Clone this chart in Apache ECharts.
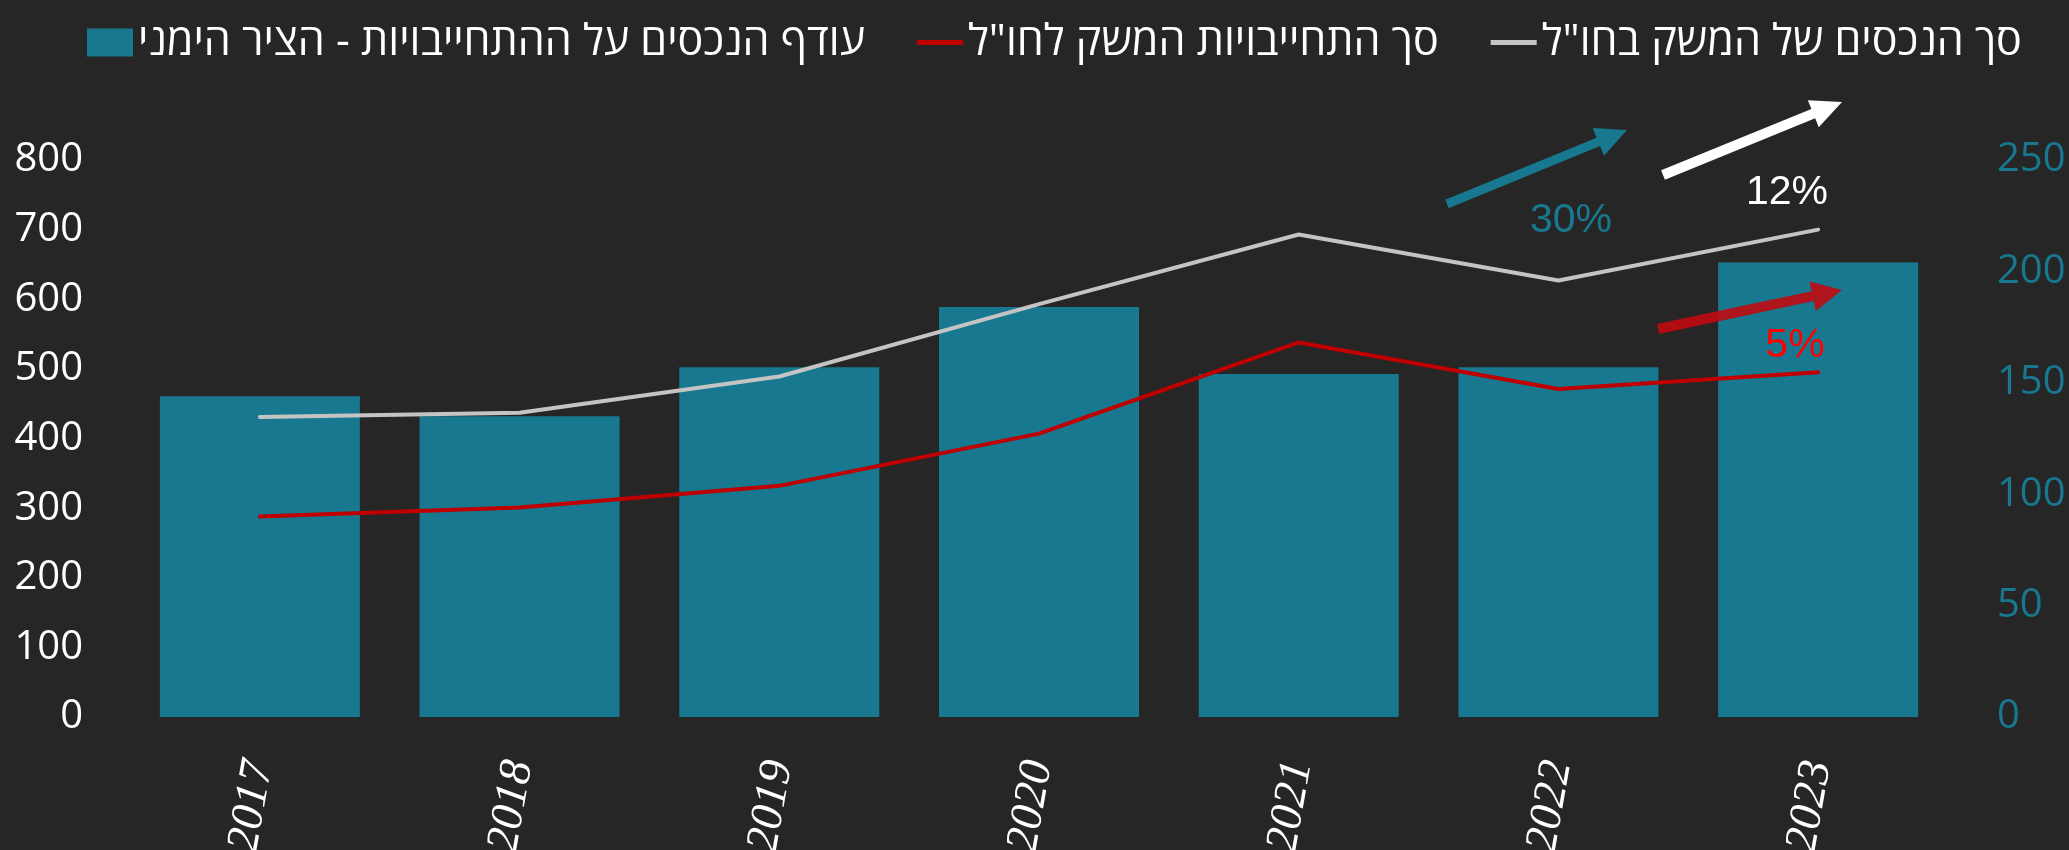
<!DOCTYPE html>
<html>
<head>
<meta charset="utf-8">
<script src="https://cdn.jsdelivr.net/npm/echarts/dist/echarts.min.js"></script>
<style>
html, body { margin: 0; padding: 0; background: #262626; }
#chart { width: 2069px; height: 850px; }
</style>
</head>
<body>
<div id="chart"></div>
<script>
// data
const years = ['2017', '2018', '2019', '2020', '2021', '2022', '2023'];
const assets = [431, 437, 489, 593, 693, 627, 700];        // left axis
const liabilities = [288, 301, 332, 407, 538, 471, 495];   // left axis
const surplus = [144, 135, 157, 184, 154, 157, 204];       // right axis
const leftTicks = { min: 0, max: 800, interval: 100 };
const rightTicks = { min: 0, max: 250, interval: 50 };

const nameBar = 'עודף הנכסים על ההתחייבויות - הציר הימני';
const nameLiab = 'סך התחייבויות המשק לחו"ל';
const nameAssets = 'סך הנכסים של המשק בחו"ל';

const teal = '#177890';
const red = '#c00000';
const grey = '#c4c4c4';
const font = '"Open Sans", "Noto Sans", "Liberation Sans", sans-serif';
const lineIcon = 'path://M0,0H48V5H0Z';

// arrow outline for the annotation arrows
function arrow(tail, tip, shaft, headLen, headW) {
 const dx = tip[0] - tail[0], dy = tip[1] - tail[1];
 const len = Math.hypot(dx, dy);
 const ux = dx / len, uy = dy / len, nx = -uy, ny = ux;
 const bx = tip[0] - ux * headLen, by = tip[1] - uy * headLen;
 return [
  [tail[0] + nx * shaft / 2, tail[1] + ny * shaft / 2],
  [bx + nx * shaft / 2, by + ny * shaft / 2],
  [bx + nx * headW / 2, by + ny * headW / 2],
  tip,
  [bx - nx * headW / 2, by - ny * headW / 2],
  [bx - nx * shaft / 2, by - ny * shaft / 2],
  [tail[0] - nx * shaft / 2, tail[1] - ny * shaft / 2]
 ];
}

const pctStyle = { fontSize: 41, fontFamily: '"Liberation Sans", Arial', align: 'center', verticalAlign: 'middle' };

const chart = echarts.init(document.getElementById('chart'));
chart.setOption({
 backgroundColor: '#262626',
 animation: false,
 legend: {
  left: 82,
  top: 16,
  itemWidth: 46,
  itemHeight: 28,
  itemGap: 52,
  textStyle: { color: '#ffffff', fontSize: 43, fontFamily: font },
  data: [
   { name: nameBar, icon: 'rect' },
   { name: nameLiab, icon: lineIcon },
   { name: nameAssets, icon: lineIcon }
  ]
 },
 grid: {
  left: 130,
  right: 121,
  top: 160,
  bottom: 133,
  containLabel: false,
  outerBoundsMode: 'none'
 },
 xAxis: {
  type: 'category',
  data: years,
  axisLine: { show: false },
  axisTick: { show: false },
  axisLabel: {
   rotate: 80,
   margin: 44,
   color: '#ffffff',
   fontSize: 46,
   fontFamily: '"Liberation Serif", serif',
   fontStyle: 'italic'
  }
 },
 yAxis: [
  {
   type: 'value',
   min: leftTicks.min,
   max: leftTicks.max,
   interval: leftTicks.interval,
   splitLine: { show: false },
   axisLine: { show: false },
   axisTick: { show: false },
   axisLabel: { color: '#ffffff', fontSize: 40, fontFamily: font, margin: 47 }
  },
  {
   type: 'value',
   min: rightTicks.min,
   max: rightTicks.max,
   interval: rightTicks.interval,
   splitLine: { show: false },
   axisLine: { show: false },
   axisTick: { show: false },
   axisLabel: { color: teal, fontSize: 40, fontFamily: font, margin: 49 }
  }
 ],
 series: [
  {
   name: nameBar,
   type: 'bar',
   yAxisIndex: 1,
   data: surplus,
   barWidth: 200,
   itemStyle: { color: teal }
  },
  {
   name: nameLiab,
   type: 'line',
   yAxisIndex: 0,
   data: liabilities,
   symbol: 'none',
   lineStyle: { color: red, width: 4, cap: 'round' },
   itemStyle: { color: red }
  },
  {
   name: nameAssets,
   type: 'line',
   yAxisIndex: 0,
   data: assets,
   symbol: 'none',
   lineStyle: { color: grey, width: 4, cap: 'round' },
   itemStyle: { color: grey }
  }
 ],
 graphic: [
  { type: 'polygon', z: 100, shape: { points: arrow([1447, 204], [1627, 130], 9, 31, 30) }, style: { fill: teal } },
  { type: 'polygon', z: 100, shape: { points: arrow([1663, 175], [1842, 102], 10, 31, 29) }, style: { fill: '#ffffff' } },
  { type: 'polygon', z: 100, shape: { points: arrow([1658, 329], [1842, 290], 10, 30, 30) }, style: { fill: 'rgba(192,10,16,0.9)' } },
  { type: 'text', z: 100, x: 1571, y: 221, style: Object.assign({ text: '30%', fill: teal }, pctStyle) },
  { type: 'text', z: 100, x: 1787, y: 193, style: Object.assign({ text: '12%', fill: '#ffffff' }, pctStyle) },
  { type: 'text', z: 100, x: 1795, y: 346, style: Object.assign({ text: '5%', fill: '#ff0000' }, pctStyle) }
 ]
});
</script>
</body>
</html>
